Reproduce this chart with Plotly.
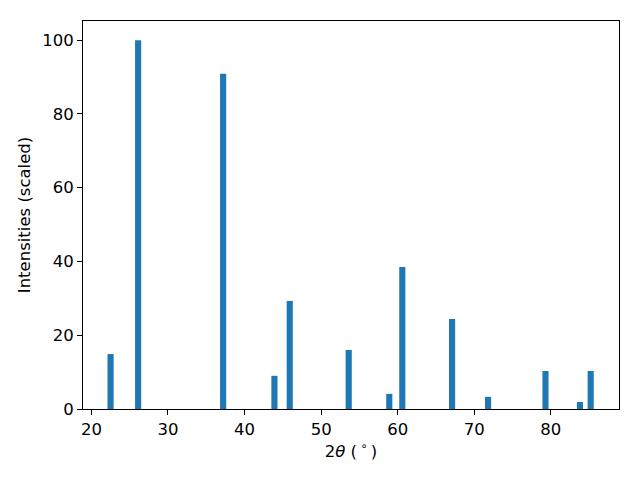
import plotly.graph_objects as go

two_theta = [22.5, 26.1, 37.2, 43.9, 45.9, 53.6, 58.9, 60.6, 67.1, 71.8, 79.3, 83.8, 85.2]
intensity = [14.9, 100.0, 90.9, 9.0, 29.3, 16.0, 4.1, 38.5, 24.4, 3.3, 10.3, 1.9, 10.3]
x_ticks = [20, 30, 40, 50, 60, 70, 80]
y_ticks = [0, 20, 40, 60, 80, 100]

fig = go.Figure(go.Bar(x=two_theta, y=intensity, width=0.8,
                       marker=dict(color="#1f77b4", line=dict(width=0))))

FS = 16.5
axis_common = dict(showline=True, mirror=True, linecolor="black", linewidth=1.1,
                   ticks="outside", ticklen=5, tickwidth=1.1, tickcolor="black",
                   showgrid=False, zeroline=False, automargin=False,
                   tickfont=dict(family="DejaVu Sans", size=FS, color="black"))

# page body has an 8px margin; shrink figure so the plot area lands where the reference's does
fig.update_layout(
    width=632, height=472,
    paper_bgcolor="white", plot_bgcolor="white",
    margin=dict(l=75, r=21, t=13, b=71),
    showlegend=False,
    font=dict(family="DejaVu Sans", size=FS, color="black"),
    xaxis=dict(range=[18.9, 88.9], tickvals=x_ticks,
               title=dict(text="2<i>θ</i> (\u2009<sup>∘</sup>\u2009)", font=dict(size=FS), standoff=6),
               **axis_common),
    yaxis=dict(range=[0, 105.2], tickvals=y_ticks,
               title=dict(text="Intensities (scaled)", font=dict(size=FS), standoff=7),
               **axis_common),
)

fig.write_html("out.html")
